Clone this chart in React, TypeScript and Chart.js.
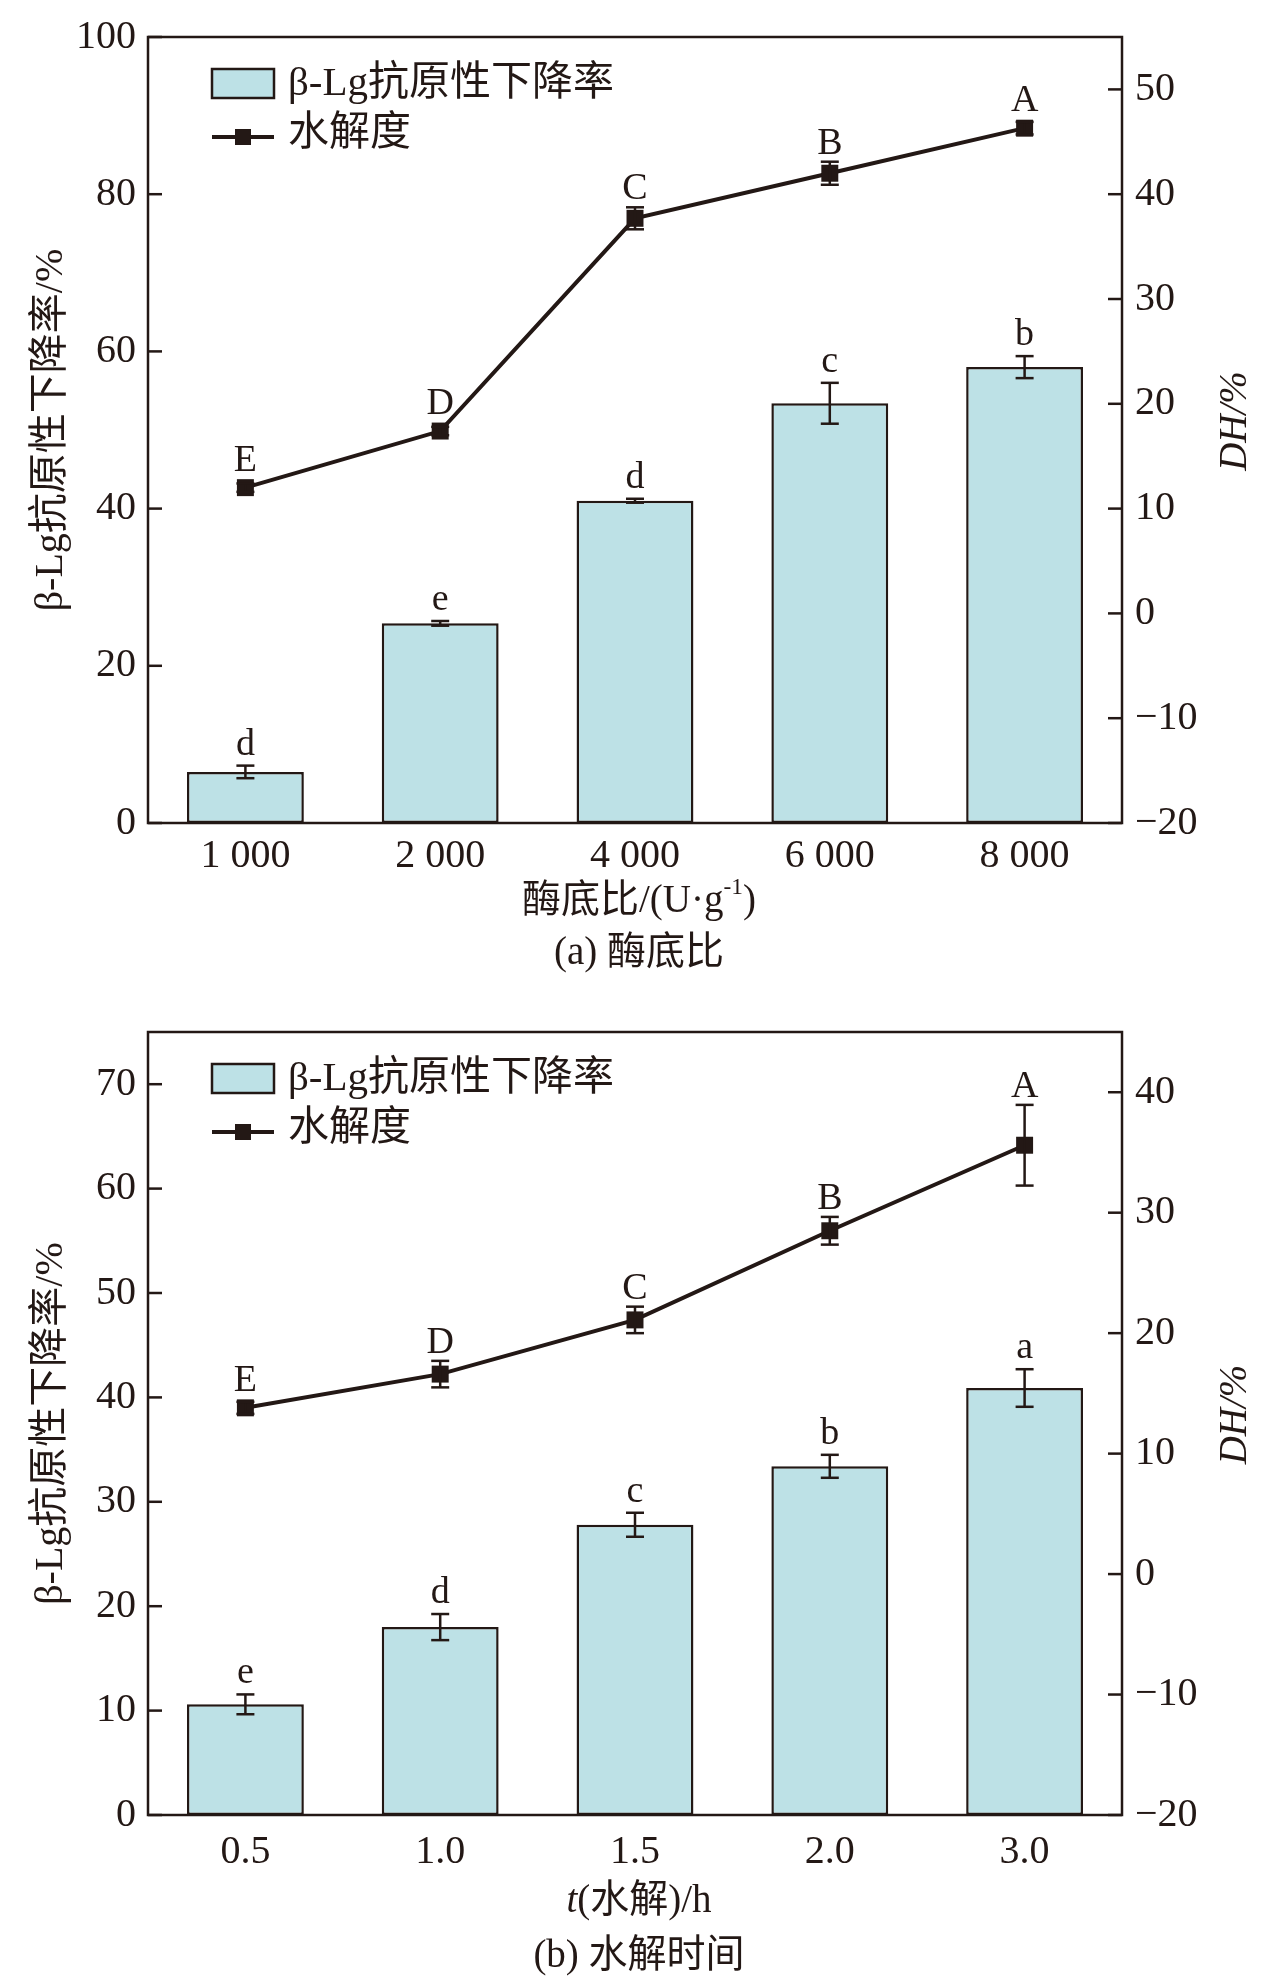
import React, { useEffect, useRef } from "react";
import { Chart, registerables } from "chart.js";

Chart.register(...registerables);

// ---------- data ----------
const ratioLabels = ["1 000", "2 000", "4 000", "6 000", "8 000"];
const ratioReduction = [6.5, 25.4, 41.0, 53.4, 58.0];
const ratioReductionErr = [0.8, 0.3, 0.25, 2.6, 1.4];
const ratioReductionLetters = ["d", "e", "d", "c", "b"];
const ratioDH = [12.0, 17.4, 37.7, 42.0, 46.3];
const ratioDHErr = [0.4, 0.4, 1.05, 1.1, 0.6];
const ratioDHLetters = ["E", "D", "C", "B", "A"];

const timeLabels = ["0.5", "1.0", "1.5", "2.0", "3.0"];
const timeReduction = [10.6, 18.0, 27.8, 33.4, 40.9];
const timeReductionErr = [0.95, 1.25, 1.15, 1.1, 1.8];
const timeReductionLetters = ["e", "d", "c", "b", "a"];
const timeDH = [13.8, 16.6, 21.1, 28.5, 35.6];
const timeDHErr = [0.5, 1.1, 1.1, 1.15, 3.35];
const timeDHLetters = ["E", "D", "C", "B", "A"];

const barLegend = "β-Lg抗原性下降率";
const lineLegend = "水解度";
const leftTitle = "β-Lg抗原性下降率/%";
const rightTitle = "DH/%";

// ---------- style ----------
const INK = "#231815";
const BAR_FILL = "#BDE1E6";
const FAMILY = '"Liberation Serif", "Noto Sans CJK SC", serif';
const f = (size: number, style = "") => `${style} ${size}px ${FAMILY}`.trim();
const PLOT_LEFT = 148;
const PLOT_RIGHT = 1122;

type Seg = { text: string; style?: string; sup?: boolean };

interface PanelCfg {
  labels: string[];
  bars: number[];
  barErr: number[];
  barLetters: string[];
  dh: number[];
  dhErr: number[];
  dhLetters: string[];
  yMax: number;
  yStep: number;
  y1Min: number;
  y1Max: number;
  xTitle: Seg[];
  caption: string;
  height: number;
  plotTop: number;
  plotBottom: number;
  tickPad: number;
  titleOff: number;
  captionOff: number;
}

function drawSegs(ctx: CanvasRenderingContext2D, segs: Seg[], cx: number, cy: number, size: number) {
  const widths = segs.map((s) => {
    ctx.font = f(s.sup ? size * 0.6 : size, s.style || "");
    return ctx.measureText(s.text).width;
  });
  const total = widths.reduce((a, b) => a + b, 0);
  let x = cx - total / 2;
  ctx.textAlign = "left";
  ctx.textBaseline = "middle";
  segs.forEach((s, i) => {
    ctx.font = f(s.sup ? size * 0.6 : size, s.style || "");
    ctx.fillText(s.text, x, s.sup ? cy - size * 0.35 : cy);
    x += widths[i];
  });
}

function makeDecor(cfg: PanelCfg) {
  return {
    id: "decor",
    afterDatasetsDraw(chart: any) {
      const ctx: CanvasRenderingContext2D = chart.ctx;
      const ca = chart.chartArea;
      const y = chart.scales.y;
      const y1 = chart.scales.y1;
      ctx.save();
      ctx.strokeStyle = INK;
      ctx.fillStyle = INK;
      ctx.lineCap = "butt";

      const seg = (x0: number, y0: number, x2: number, y2: number) => {
        ctx.beginPath();
        ctx.moveTo(x0, y0);
        ctx.lineTo(x2, y2);
        ctx.stroke();
      };

      // frame
      ctx.lineWidth = 2.5;
      ctx.strokeRect(ca.left, ca.top, ca.right - ca.left, ca.bottom - ca.top);

      // inward ticks
      y.ticks.forEach((t: any) => {
        const p = y.getPixelForValue(t.value);
        seg(ca.left, p, ca.left + 14, p);
      });
      y1.ticks.forEach((t: any) => {
        const p = y1.getPixelForValue(t.value);
        seg(ca.right - 14, p, ca.right, p);
      });

      const cap = 9;
      ctx.lineWidth = 2.5;
      ctx.font = f(38);
      ctx.textAlign = "center";
      ctx.textBaseline = "alphabetic";

      // bar error bars + letters
      const barMeta = chart.getDatasetMeta(1);
      barMeta.data.forEach((el: any, i: number) => {
        const v = cfg.bars[i];
        const e = cfg.barErr[i];
        const top = y.getPixelForValue(v + e);
        const bot = y.getPixelForValue(v - e);
        seg(el.x, top, el.x, bot);
        seg(el.x - cap, top, el.x + cap, top);
        seg(el.x - cap, bot, el.x + cap, bot);
        ctx.fillText(cfg.barLetters[i], el.x, Math.min(top, y.getPixelForValue(v)) - 11);
      });

      // line error bars + letters
      const lineMeta = chart.getDatasetMeta(0);
      lineMeta.data.forEach((el: any, i: number) => {
        const v = cfg.dh[i];
        const e = cfg.dhErr[i];
        const top = y1.getPixelForValue(v + e);
        const bot = y1.getPixelForValue(v - e);
        seg(el.x, top, el.x, bot);
        seg(el.x - cap, top, el.x + cap, top);
        seg(el.x - cap, bot, el.x + cap, bot);
        ctx.fillText(cfg.dhLetters[i], el.x, Math.min(top, el.y - 9) - 8);
      });

      // legend
      const lx = ca.left + 64;
      const ly1 = ca.top + 46;
      const ly2 = ca.top + 100;
      ctx.fillStyle = BAR_FILL;
      ctx.fillRect(lx, ly1 - 14, 62, 29);
      ctx.lineWidth = 2.5;
      ctx.strokeRect(lx, ly1 - 14, 62, 29);
      ctx.fillStyle = INK;
      ctx.lineWidth = 4;
      seg(lx, ly2, lx + 62, ly2);
      ctx.fillRect(lx + 31 - 8, ly2 - 8, 16, 16);
      ctx.font = f(41);
      ctx.textAlign = "left";
      ctx.textBaseline = "middle";
      ctx.fillText(barLegend, lx + 76, ly1 + 1);
      ctx.fillText(lineLegend, lx + 76, ly2 - 3);

      // axis titles
      const cy = (ca.top + ca.bottom) / 2;
      ctx.save();
      ctx.translate(51, cy);
      ctx.rotate(-Math.PI / 2);
      ctx.textAlign = "center";
      ctx.font = f(40);
      ctx.fillText(leftTitle, 0, 0);
      ctx.restore();

      ctx.save();
      ctx.translate(1236, cy - 9);
      ctx.rotate(-Math.PI / 2);
      ctx.textAlign = "center";
      ctx.font = f(39, "italic");
      ctx.fillText(rightTitle, 0, 0);
      ctx.restore();

      // x title and caption
      const cx = (ca.left + ca.right) / 2 + 4;
      drawSegs(ctx, cfg.xTitle, cx, ca.bottom + cfg.titleOff, 39);
      drawSegs(ctx, [{ text: cfg.caption }], cx, ca.bottom + cfg.captionOff, 39);

      ctx.restore();
    },
  };
}

const fmtMinus = (v: any) => {
  const n = Number(v);
  return n < 0 ? "\u2212" + Math.abs(n) : String(n);
};

function Panel({ cfg, top }: { cfg: PanelCfg; top: number }) {
  const ref = useRef<HTMLCanvasElement | null>(null);
  useEffect(() => {
    if (!ref.current) return;
    const tickFont = { family: FAMILY, size: 40 };
    const chart = new Chart(ref.current, {
      type: "bar",
      data: {
        labels: cfg.labels,
        datasets: [
          {
            type: "line",
            label: lineLegend,
            data: cfg.dh,
            yAxisID: "y1",
            borderColor: INK,
            borderWidth: 4,
            pointStyle: "rect",
            pointRadius: 12,
            pointHoverRadius: 12,
            pointBackgroundColor: INK,
            pointBorderColor: INK,
            pointBorderWidth: 0,
            tension: 0,
            order: 0,
          } as any,
          {
            type: "bar",
            label: barLegend,
            data: cfg.bars,
            yAxisID: "y",
            backgroundColor: BAR_FILL,
            borderColor: INK,
            borderWidth: 2.5,
            borderSkipped: false,
            barPercentage: 0.6,
            categoryPercentage: 1,
            order: 1,
          } as any,
        ],
      },
      options: {
        responsive: false,
        animation: false,
        layout: { padding: { top: cfg.plotTop, left: 0, right: 0, bottom: 0 } },
        plugins: { legend: { display: false }, tooltip: { enabled: false } },
        scales: {
          x: {
            grid: { display: false, drawTicks: false },
            border: { display: false },
            ticks: { font: tickFont, color: INK, padding: cfg.tickPad },
            afterFit: (s: any) => {
              s.height = cfg.height - cfg.plotBottom;
            },
          },
          y: {
            position: "left",
            min: 0,
            max: cfg.yMax,
            grid: { display: false, drawTicks: false },
            border: { display: false },
            ticks: { stepSize: cfg.yStep, font: tickFont, color: INK, padding: 12 },
            afterBuildTicks: (s: any) => {
              s.ticks = s.ticks.filter((t: any) => Math.abs(t.value % cfg.yStep) < 1e-9);
            },
            afterFit: (s: any) => {
              s.width = PLOT_LEFT;
            },
          },
          y1: {
            position: "right",
            min: cfg.y1Min,
            max: cfg.y1Max,
            grid: { display: false, drawTicks: false },
            border: { display: false },
            ticks: { stepSize: 10, font: tickFont, color: INK, padding: 13, callback: fmtMinus },
            afterBuildTicks: (s: any) => {
              s.ticks = s.ticks.filter((t: any) => Math.abs(t.value % 10) < 1e-9);
            },
            afterFit: (s: any) => {
              s.width = 1276 - PLOT_RIGHT;
            },
          },
        } as any,
      },
      plugins: [makeDecor(cfg)],
    });
    return () => chart.destroy();
  }, [cfg]);
  return (
    <canvas
      ref={ref}
      width={1276}
      height={cfg.height}
      style={{ position: "absolute", left: 0, top, width: 1276, height: cfg.height }}
    />
  );
}

const panelA: PanelCfg = {
  labels: ratioLabels,
  bars: ratioReduction,
  barErr: ratioReductionErr,
  barLetters: ratioReductionLetters,
  dh: ratioDH,
  dhErr: ratioDHErr,
  dhLetters: ratioDHLetters,
  yMax: 100,
  yStep: 20,
  y1Min: -20,
  y1Max: 55,
  xTitle: [{ text: "酶底比/(U·g" }, { text: "-1", sup: true }, { text: ")" }],
  caption: "(a) 酶底比",
  height: 990,
  plotTop: 35,
  plotBottom: 823,
  tickPad: 9,
  titleOff: 79,
  captionOff: 131,
};

const panelB: PanelCfg = {
  labels: timeLabels,
  bars: timeReduction,
  barErr: timeReductionErr,
  barLetters: timeReductionLetters,
  dh: timeDH,
  dhErr: timeDHErr,
  dhLetters: timeDHLetters,
  yMax: 75,
  yStep: 10,
  y1Min: -20,
  y1Max: 45,
  xTitle: [{ text: "t", style: "italic" }, { text: "(水解)/h" }],
  caption: "(b) 水解时间",
  height: 988,
  plotTop: 36,
  plotBottom: 820,
  tickPad: 13,
  titleOff: 87,
  captionOff: 142,
};

export default function App() {
  return (
    <div style={{ position: "absolute", left: 0, top: 0, width: 1276, height: 1983, background: "#fff" }}>
      <Panel cfg={panelA} top={0} />
      <Panel cfg={panelB} top={995} />
    </div>
  );
}
